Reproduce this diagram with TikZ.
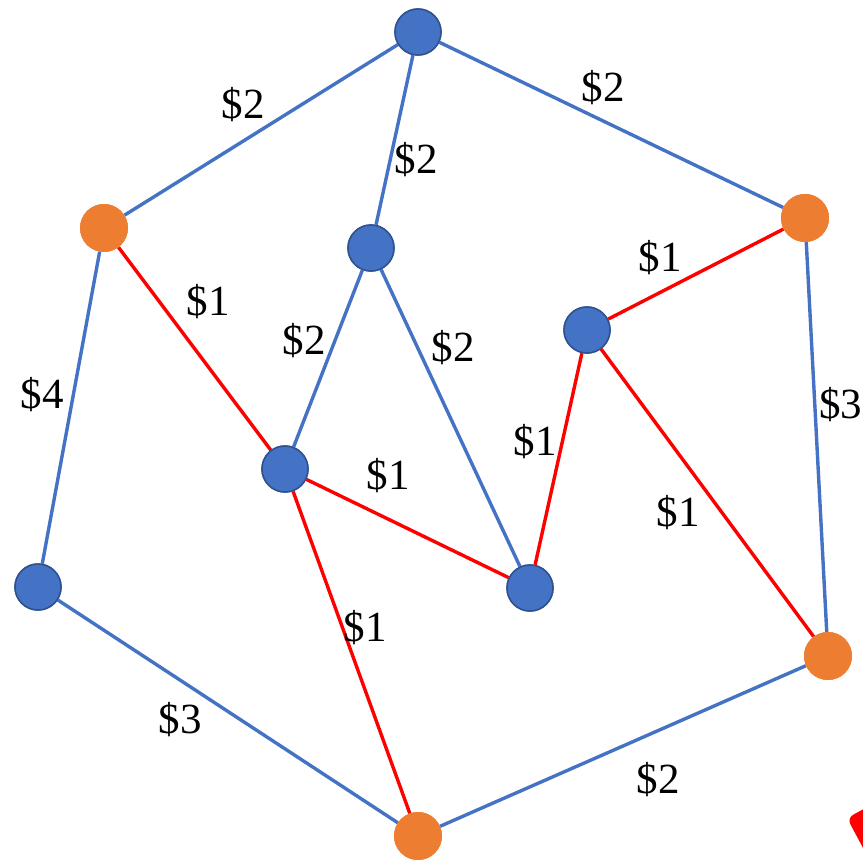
\documentclass[tikz,border=0pt]{standalone}
\usepackage{fontspec}
\setmainfont{Liberation Serif}
\definecolor{bnode}{HTML}{4472C4}
\definecolor{bborder}{HTML}{2F528F}
\definecolor{onode}{HTML}{ED7D31}
\definecolor{redline}{HTML}{FF0000}
\begin{document}
\begin{tikzpicture}[x=1pt,y=-1pt,
  bluev/.style={circle,fill=bnode,draw=bborder,line width=1.5pt,minimum size=46pt,inner sep=0pt},
  orangev/.style={circle,fill=onode,minimum size=48pt,inner sep=0pt},
  bedge/.style={draw=bnode,line width=3.4pt},
  redge/.style={draw=redline,line width=3.4pt},
  lbl/.style={font=\fontsize{43}{45}\selectfont,inner sep=0pt}]
\useasboundingbox (0,0) rectangle (863,862);
\clip (0,0) rectangle (863,862);
\fill[redline,rounded corners=7pt] (847,818) -- (901,789) -- (931,845) -- (877,874) -- cycle;
\node[bluev] (A) at (418,32) {};
\node[orangev] (B) at (104,228) {};
\node[orangev] (C) at (805,218) {};
\node[bluev] (D) at (371,248) {};
\node[bluev] (E) at (587,330) {};
\node[bluev] (F) at (285,469) {};
\node[bluev] (G) at (530,588) {};
\node[bluev] (H) at (38,587) {};
\node[orangev] (I) at (828,656) {};
\node[orangev] (J) at (418,836) {};
\path[bedge] (A) -- (B);
\path[bedge] (A) -- (D);
\path[bedge] (A) -- (C);
\path[bedge] (B) -- (H);
\path[redge] (B) -- (F);
\path[bedge] (D) -- (F);
\path[bedge] (D) -- (G);
\path[redge] (C) -- (E);
\path[bedge] (C) -- (I);
\path[redge] (E) -- (G);
\path[redge] (E) -- (I);
\path[redge] (F) -- (G);
\path[redge] (F) -- (J);
\path[bedge] (H) -- (J);
\path[bedge] (J) -- (I);
\node[bluev] at (A) {};
\node[orangev] at (B) {};
\node[orangev] at (C) {};
\node[bluev] at (D) {};
\node[bluev] at (E) {};
\node[bluev] at (F) {};
\node[bluev] at (G) {};
\node[bluev] at (H) {};
\node[orangev] at (I) {};
\node[orangev] at (J) {};
\node[lbl] (l1) at (243,105) {\$2};
\node[lbl] (l2) at (416,160) {\$2};
\node[lbl] (l3) at (603,88) {\$2};
\node[lbl] (l4) at (42,395) {\$4};
\node[lbl] (l5) at (208,302) {\$1};
\node[lbl] (l6) at (304,341) {\$2};
\node[lbl] (l7) at (453,348) {\$2};
\node[lbl] (l8) at (660,258) {\$1};
\node[lbl,anchor=west] (l9) at (819,405) {\$3};
\node[lbl] (l10) at (535,442) {\$1};
\node[lbl] (l11) at (678,513) {\$1};
\node[lbl] (l12) at (388,476) {\$1};
\node[lbl] (l13) at (365,628) {\$1};
\node[lbl] (l14) at (180,720) {\$3};
\node[lbl] (l15) at (658,780) {\$2};
\end{tikzpicture}
\end{document}
